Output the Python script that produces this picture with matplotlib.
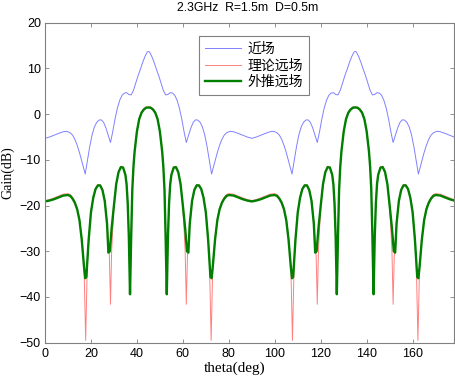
import matplotlib
matplotlib.use('Agg')
import matplotlib.pyplot as plt

# near field (blue)
theta_near = [0, 2, 4, 6, 8, 9.5, 11, 12, 13, 14, 15, 16, 17.5, 18.5, 19.5, 20.5, 21.5, 22.5, 23.5, 24.5,
              25.5, 26.5, 27.5, 28.5, 29.5, 30.5, 31.5, 32.5, 33.5, 34.5, 35.5, 36.5, 37.5, 38.5, 39.5, 40.5,
              41.5, 42.5, 43.5, 44.5, 45, 45.5, 46.5, 47.5, 48.5, 49.5, 50.5, 51.5, 52.5, 53.5, 54.5, 55.5,
              56.5, 57.5, 58.5, 59.5, 60.5, 61.5, 62.5, 63.5, 64.5, 65.5, 66.5, 67.5, 68.5, 69.5, 70.5, 71.5,
              72.5, 74, 75, 76, 77, 78, 79, 80.5, 82, 84, 86, 88, 90,
              92, 94, 96, 98, 99.5, 101, 102, 103, 104, 105, 106, 107.5, 108.5, 109.5, 110.5, 111.5, 112.5,
              113.5, 114.5, 115.5, 116.5, 117.5, 118.5, 119.5, 120.5, 121.5, 122.5, 123.5, 124.5, 125.5, 126.5,
              127.5, 128.5, 129.5, 130.5, 131.5, 132.5, 133.5, 134.5, 135, 135.5, 136.5, 137.5, 138.5, 139.5,
              140.5, 141.5, 142.5, 143.5, 144.5, 145.5, 146.5, 147.5, 148.5, 149.5, 150.5, 151.5, 152.5, 153.5,
              154.5, 155.5, 156.5, 157.5, 158.5, 159.5, 160.5, 161.5, 162.5, 164, 165, 166, 167, 168, 169,
              170.5, 172, 174, 176, 178]
gain_near = [-5.3, -5.0, -4.6, -4.2, -3.85, -3.75, -4.1, -4.6, -5.5, -6.8, -8.4, -10.3, -13.1, -10.0, -7.0,
             -4.5, -2.8, -1.8, -1.3, -1.25, -1.8, -3.0, -4.6, -6.2, -3.8, -1.0, 1.3, 3.0, 4.1, 4.6, 4.7, 4.3,
             4.2, 5.2, 6.8, 8.4, 9.8, 11.3, 12.6, 13.6, 13.7, 13.6, 12.6, 11.3, 9.8, 8.4, 6.8, 5.2, 4.2, 4.3,
             4.7, 4.6, 4.1, 3.0, 1.3, -1.0, -3.8, -6.2, -4.6, -3.0, -1.8, -1.25, -1.3, -1.8, -2.8, -4.5, -7.0,
             -10.0, -13.1, -10.3, -8.4, -6.8, -5.5, -4.6, -4.1, -3.75, -3.85, -4.2, -4.6, -5.0, -5.3,
             -5.0, -4.6, -4.2, -3.85, -3.75, -4.1, -4.6, -5.5, -6.8, -8.4, -10.3, -13.1, -10.0, -7.0,
             -4.5, -2.8, -1.8, -1.3, -1.25, -1.8, -3.0, -4.6, -6.2, -3.8, -1.0, 1.3, 3.0, 4.1, 4.6, 4.7, 4.3,
             4.2, 5.2, 6.8, 8.4, 9.8, 11.3, 12.6, 13.6, 13.7, 13.6, 12.6, 11.3, 9.8, 8.4, 6.8, 5.2, 4.2, 4.3,
             4.7, 4.6, 4.1, 3.0, 1.3, -1.0, -3.8, -6.2, -4.6, -3.0, -1.8, -1.25, -1.3, -1.8, -2.8, -4.5, -7.0,
             -10.0, -13.1, -10.3, -8.4, -6.8, -5.5, -4.6, -4.1, -3.75, -3.85, -4.2, -4.6, -5.0]

# theoretical far field (red)
theta_theory = [0, 2, 4, 6, 8, 10, 11, 12, 13, 14, 15, 16, 17, 17.7, 18.4, 19, 20, 21, 22, 23, 24, 25, 26,
                27, 28, 28.5, 29, 29.5, 30, 31, 32, 33, 34, 35, 35.5, 36, 36.5, 37, 37.5, 38, 38.5, 39, 40,
                41, 42, 43, 44, 45, 46, 47, 48, 49, 50, 51, 51.5, 52, 52.5, 53, 53.5, 54, 54.5, 55, 56, 57,
                58, 59, 60, 60.5, 61, 61.5, 62, 63, 64, 65, 66, 67, 68, 69, 70, 71, 71.6, 72.3, 73, 74, 75,
                76, 77, 78, 79, 80, 82, 84, 86, 88, 90,
                92, 94, 96, 98, 100, 101, 102, 103, 104, 105, 106, 107, 107.7, 108.4, 109, 110, 111, 112,
                113, 114, 115, 116, 117, 118, 118.5, 119, 119.5, 120, 121, 122, 123, 124, 125, 125.5, 126,
                126.5, 127, 127.5, 128, 128.5, 129, 130, 131, 132, 133, 134, 135, 136, 137, 138, 139, 140,
                141, 141.5, 142, 142.5, 143, 143.5, 144, 144.5, 145, 146, 147, 148, 149, 150, 150.5, 151,
                151.5, 152, 153, 154, 155, 156, 157, 158, 159, 160, 161, 161.6, 162.3, 163, 164, 165, 166,
                167, 168, 169, 170, 172, 174, 176, 178]
gain_theory = [-18.9, -18.7, -18.3, -17.9, -17.5, -17.4, -17.6, -18.2, -19.1, -20.5, -23.0, -27.0, -33.5,
               -49.5, -33.0, -27.0, -21.2, -18.0, -16.2, -15.4, -15.4, -16.4, -18.8, -23.5, -31.0, -41.6,
               -30.0, -25.0, -20.5, -15.2, -12.5, -11.4, -11.5, -13.1, -15.1, -19.3, -26.5, -39.3, -26.5,
               -16.3, -11.3, -8.0, -3.6, -0.9, 0.5, 1.2, 1.55, 1.6, 1.55, 1.2, 0.5, -0.9, -3.6, -8.0, -11.3,
               -16.3, -26.5, -39.3, -26.5, -19.3, -15.1, -13.1, -11.5, -11.4, -12.5, -15.2, -20.5, -25.0,
               -30.0, -41.6, -31.0, -23.5, -18.8, -16.4, -15.4, -15.4, -16.2, -18.0, -21.2, -27.0, -33.0,
               -49.5, -33.5, -27.0, -23.0, -20.5, -19.1, -18.2, -17.6, -17.4, -17.5, -17.9, -18.3, -18.7,
               -18.9,
               -18.7, -18.3, -17.9, -17.5, -17.4, -17.6, -18.2, -19.1, -20.5, -23.0, -27.0, -33.5,
               -49.5, -33.0, -27.0, -21.2, -18.0, -16.2, -15.4, -15.4, -16.4, -18.8, -23.5, -31.0, -41.6,
               -30.0, -25.0, -20.5, -15.2, -12.5, -11.4, -11.5, -13.1, -15.1, -19.3, -26.5, -39.3, -26.5,
               -16.3, -11.3, -8.0, -3.6, -0.9, 0.5, 1.2, 1.55, 1.6, 1.55, 1.2, 0.5, -0.9, -3.6, -8.0, -11.3,
               -16.3, -26.5, -39.3, -26.5, -19.3, -15.1, -13.1, -11.5, -11.4, -12.5, -15.2, -20.5, -25.0,
               -30.0, -41.6, -31.0, -23.5, -18.8, -16.4, -15.4, -15.4, -16.2, -18.0, -21.2, -27.0, -33.0,
               -49.5, -33.5, -27.0, -23.0, -20.5, -19.1, -18.2, -17.6, -17.4, -17.5, -17.9, -18.3, -18.7]

# extrapolated far field (green)
theta_ext = [0, 2, 4, 6, 8, 10, 11, 12, 13, 14, 15, 16, 17, 17.5, 18, 18.5, 19, 20, 21, 22, 23, 24, 25, 26,
             27, 27.6, 28.2, 29, 30, 31, 32, 33, 34, 35, 35.5, 36, 36.5, 37, 37.5, 38, 38.5, 39, 40, 41, 42,
             43, 44, 45, 46, 47, 48, 49, 50, 51, 51.5, 52, 52.5, 53, 53.5, 54, 54.5, 55, 56, 57, 58, 59, 60,
             61, 61.8, 62.4, 63, 64, 65, 66, 67, 68, 69, 70, 71, 71.5, 72, 72.5, 73, 74, 75, 76, 77, 78, 79,
             80, 82, 84, 86, 88, 90,
             92, 94, 96, 98, 100, 101, 102, 103, 104, 105, 106, 107, 107.5, 108, 108.5, 109, 110, 111, 112,
             113, 114, 115, 116, 117, 117.6, 118.2, 119, 120, 121, 122, 123, 124, 125, 125.5, 126, 126.5,
             127, 127.5, 128, 128.5, 129, 130, 131, 132, 133, 134, 135, 136, 137, 138, 139, 140, 141, 141.5,
             142, 142.5, 143, 143.5, 144, 144.5, 145, 146, 147, 148, 149, 150, 151, 151.8, 152.4, 153, 154,
             155, 156, 157, 158, 159, 160, 161, 161.5, 162, 162.5, 163, 164, 165, 166, 167, 168, 169, 170,
             172, 174, 176, 178]
gain_ext = [-19.1, -18.9, -18.6, -18.2, -17.8, -17.7, -17.9, -18.5, -19.4, -20.8, -23.2, -27.5, -33.5, -35.9,
            -35.6, -31.5, -27.5, -21.5, -18.3, -16.4, -15.6, -15.6, -16.6, -19.0, -24.0, -30.3, -30.0, -25.0,
            -20.0, -15.3, -12.7, -11.6, -11.7, -13.3, -15.3, -19.5, -27.0, -39.4, -27.0, -16.5, -11.5, -8.2,
            -3.8, -1.1, 0.3, 1.0, 1.4, 1.45, 1.4, 1.0, 0.3, -1.1, -3.8, -8.2, -11.5, -16.5, -27.0, -39.4,
            -27.0, -19.5, -15.3, -13.3, -11.7, -11.6, -12.7, -15.3, -20.0, -25.0, -30.0, -30.3, -24.0, -19.0,
            -16.6, -15.6, -15.6, -16.4, -18.3, -21.5, -27.5, -31.5, -35.6, -35.9, -33.5, -27.5, -23.2, -20.8,
            -19.4, -18.5, -17.9, -17.7, -17.8, -18.2, -18.6, -18.9, -19.1,
            -18.9, -18.6, -18.2, -17.8, -17.7, -17.9, -18.5, -19.4, -20.8, -23.2, -27.5, -33.5, -35.9,
            -35.6, -31.5, -27.5, -21.5, -18.3, -16.4, -15.6, -15.6, -16.6, -19.0, -24.0, -30.3, -30.0, -25.0,
            -20.0, -15.3, -12.7, -11.6, -11.7, -13.3, -15.3, -19.5, -27.0, -39.4, -27.0, -16.5, -11.5, -8.2,
            -3.8, -1.1, 0.3, 1.0, 1.4, 1.45, 1.4, 1.0, 0.3, -1.1, -3.8, -8.2, -11.5, -16.5, -27.0, -39.4,
            -27.0, -19.5, -15.3, -13.3, -11.7, -11.6, -12.7, -15.3, -20.0, -25.0, -30.0, -30.3, -24.0, -19.0,
            -16.6, -15.6, -15.6, -16.4, -18.3, -21.5, -27.5, -31.5, -35.6, -35.9, -33.5, -27.5, -23.2, -20.8,
            -19.4, -18.5, -17.9, -17.7, -17.8, -18.2, -18.6, -18.9]

labels = ['近场', '理论远场', '外推远场']

plt.rcParams['font.family'] = ['Liberation Sans', 'DejaVu Sans']

fig = plt.figure(figsize=(4.56, 3.83), dpi=100)
ax = fig.add_axes([45 / 456, 1 - 342.7 / 383, 409 / 456, 320 / 383])

ax.plot(theta_near, gain_near, color='#8080ff', lw=0.7, label=labels[0])
ax.plot(theta_theory, gain_theory, color='#ff8080', lw=0.7, label=labels[1])
ax.plot(theta_ext, gain_ext, color='#007f00', lw=1.7, label=labels[2])

ax.set_xlim(0, 178)
ax.set_ylim(-50, 20)
ax.set_xticks(range(0, 161, 20))
ax.set_yticks(range(-50, 21, 10))
ax.tick_params(direction='in', top=True, right=True, length=3, width=0.6,
               color='#808080', labelsize=9)
ax.tick_params(axis='x', pad=3.5)
ax.tick_params(axis='y', pad=3)
for s in ax.spines.values():
    s.set_color('#808080')
    s.set_linewidth(0.8)

fig.text(248 / 456, 1 - 7.8 / 383, '2.3GHz  R=1.5m  D=0.5m', ha='center', va='center', fontsize=8.8)

ax.set_xlabel('theta(deg)', family='Liberation Serif', fontsize=11)
ax.xaxis.set_label_coords(0.463, -0.06)
ax.set_ylabel('Gain(dB)', family='Liberation Serif', fontsize=10)
ax.yaxis.set_label_coords(-0.075, 0.533)

leg = ax.legend(loc='upper left', bbox_to_anchor=(0.377, 0.958), borderaxespad=0,
                prop={'family': ['Noto Sans CJK SC'], 'size': 10},
                handlelength=2.6, handletextpad=0.5, labelspacing=0.2, borderpad=0.4,
                fancybox=False, framealpha=1, edgecolor='#808080')
leg.get_frame().set_linewidth(0.8)

fig.savefig('out.png', dpi=100)
